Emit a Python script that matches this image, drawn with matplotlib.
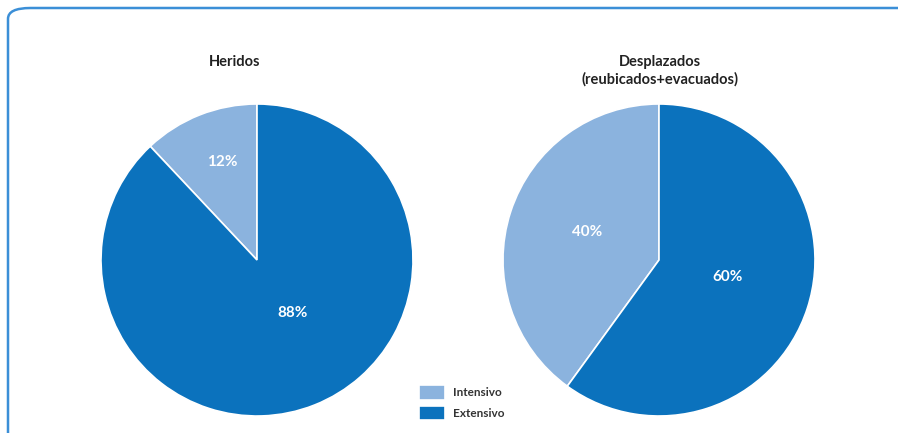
import matplotlib.pyplot as plt
from matplotlib.patches import FancyBboxPatch

plt.rcParams['font.family'] = ['Lato', 'DejaVu Sans']

# Share of each case type per indicator
categories = ['Intensivo', 'Extensivo']
heridos = [12, 88]
desplazados = [40, 60]
titles = ['Heridos', 'Desplazados\n(reubicados+evacuados)']

colors = ['#8bb3de', '#0b72bd']

W, H = 898, 433
fig = plt.figure(figsize=(W / 100, H / 100), dpi=100)

# rounded frame, running off the right and bottom edges
frame = FancyBboxPatch((8 / W, -30 / H), 930 / W, (H - 8 + 30) / H,
                       boxstyle='round,pad=0,rounding_size=0.025',
                       transform=fig.transFigure, fill=False,
                       edgecolor='#3b8fd7', linewidth=1.8, clip_on=False)
fig.patches.append(frame)


def draw_pie(cx, cy, r, values, title, title_x, title_y, label_pos):
    ax = fig.add_axes([(cx - r) / W, (H - cy - r) / H, 2 * r / W, 2 * r / H])
    wedges, _ = ax.pie(values, colors=colors, startangle=90, counterclock=True,
                       radius=1, wedgeprops=dict(edgecolor='white', linewidth=1.2))
    ax.set_xlim(-1, 1)
    ax.set_ylim(-1, 1)
    ax.set_aspect('equal')
    for v, (lx, ly) in zip(values, label_pos):
        ax.text(lx, ly, f'{v}%', ha='center', va='center', color='white',
                fontsize=11, fontweight='bold')
    fig.text(title_x / W, 1 - title_y / H, title, ha='center', va='center',
             fontsize=10.5, fontweight='bold', color='#222222', linespacing=1.25)
    return wedges


wedges = draw_pie(257, 260, 156, heridos, titles[0], 235, 62,
                  [(-0.225, 0.63), (0.23, -0.34)])
draw_pie(659, 260, 156, desplazados, titles[1], 660, 71,
         [(-0.46, 0.18), (0.44, -0.11)])

fig.legend(wedges, categories, loc='upper left',
           bbox_to_anchor=(408 / W, 1 - 376 / H), frameon=False,
           handlelength=2.2, handleheight=1.1,
           handletextpad=0.7, labelspacing=0.75, labelcolor='#333333',
           prop=dict(family=['Lato', 'DejaVu Sans'], weight='bold', size=8.5))

# make the legend keys a bit taller
for h in fig.legends[0].legend_handles:
    h.set_height(h.get_height() * 1.3)
    h.set_y(h.get_y() - h.get_height() * 0.12)

fig.savefig('out.png', dpi=100)
